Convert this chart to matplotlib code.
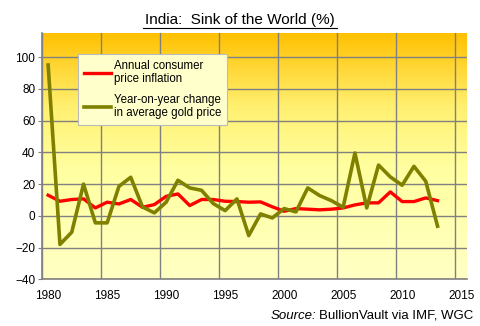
import numpy as np
import matplotlib.pyplot as plt
from matplotlib.colors import LinearSegmentedColormap
from matplotlib.lines import Line2D

plt.rcParams['font.family'] = ['Liberation Sans', 'DejaVu Sans']

# India CPI inflation vs change in average gold price, 1980-2013
years = list(range(1980, 2014))
cpi = [13.0, 9.2, 10.3, 10.7, 5.0, 8.6, 7.5, 10.3, 5.4, 7.1,
       12.3, 13.8, 6.5, 10.3, 10.3, 9.2, 9.0, 8.6, 8.8, 5.7,
       2.9, 4.6, 4.2, 3.8, 4.2, 5.0, 6.9, 8.2, 8.2, 15.1,
       9.0, 9.0, 11.3, 9.6]
gold = [95.0, -18.0, -10.3, 20.0, -4.4, -4.4, 18.6, 24.3, 5.6, 1.9,
        8.6, 22.4, 17.6, 16.1, 7.7, 3.3, 10.7, -12.4, 1.2, -1.3,
        4.6, 2.5, 17.6, 12.8, 9.6, 5.4, 39.6, 5.0, 32.0, 24.5,
        19.3, 31.2, 21.8, -6.5]
xticks = [1980, 1985, 1990, 1995, 2000, 2005, 2010, 2015]
yticks = [-40, -20, 0, 20, 40, 60, 80, 100]

fig = plt.figure(figsize=(4.8, 3.26), dpi=100)
ax = fig.add_axes([0.088, 0.143, 0.885, 0.755])

# gradient background, orange at top fading to pale yellow
cmap = LinearSegmentedColormap.from_list(
    'bg', [(0, '#FFFFC4'), (0.45, '#FFFFA0'), (0.7, '#FFF070'), (1, '#FFC000')])
grad = np.linspace(0, 1, 256).reshape(-1, 1)
ax.imshow(grad, aspect='auto', cmap=cmap, origin='lower',
          extent=[1979.5, 2015.5, -40, 115], zorder=0)

ax.plot(years, cpi, color='#FF0000', lw=2.4, label='Annual consumer\nprice inflation', zorder=3)
ax.plot(years, gold, color='#808000', lw=2.6, label='Year-on-year change\nin average gold price', zorder=3)

ax.set_xlim(1979.5, 2015.5)
ax.set_ylim(-40, 115)
ax.set_xticks(xticks)
ax.set_xticks([x - 0.5 for x in xticks], minor=True)
ax.set_yticks(yticks)
ax.tick_params(axis='x', which='major', length=0, labelsize=8.5, pad=8)
ax.tick_params(axis='x', which='minor', length=0)
ax.tick_params(axis='y', length=3, color='#808080', labelsize=8.5, pad=2)
ax.grid(True, axis='x', which='minor', color='#808080', lw=1, zorder=1)
ax.grid(True, axis='y', which='major', color='#808080', lw=1, zorder=1)
for s in ['top', 'right']:
    ax.spines[s].set_visible(False)
for s in ['left', 'bottom']:
    ax.spines[s].set_color('#808080')
    ax.spines[s].set_linewidth(1.2)

leg = ax.legend(loc='upper left', bbox_to_anchor=(0.085, 0.916), fontsize=8.3,
                fancybox=False, framealpha=1, handlelength=2.3, labelspacing=0.75,
                handletextpad=0.25, borderpad=0.5, borderaxespad=0)
leg.get_frame().set_facecolor('#FFFFCC')
leg.get_frame().set_edgecolor('#BBBBBB')
leg.get_frame().set_linewidth(0.8)
for txt in leg.get_texts():
    txt.set_linespacing(1.15)

# underlined title
fig.text(0.5, 0.925, 'India:  Sink of the World (%)', ha='center', va='baseline', fontsize=11)
fig.add_artist(Line2D([0.297, 0.703], [0.915, 0.915], color='black', lw=0.8))

fig.text(0.659, 0.022, 'Source:', style='italic', ha='right', fontsize=9.5)
fig.text(0.664, 0.022, 'BullionVault via IMF, WGC', ha='left', fontsize=9.5)

fig.savefig('out.png', dpi=100)
